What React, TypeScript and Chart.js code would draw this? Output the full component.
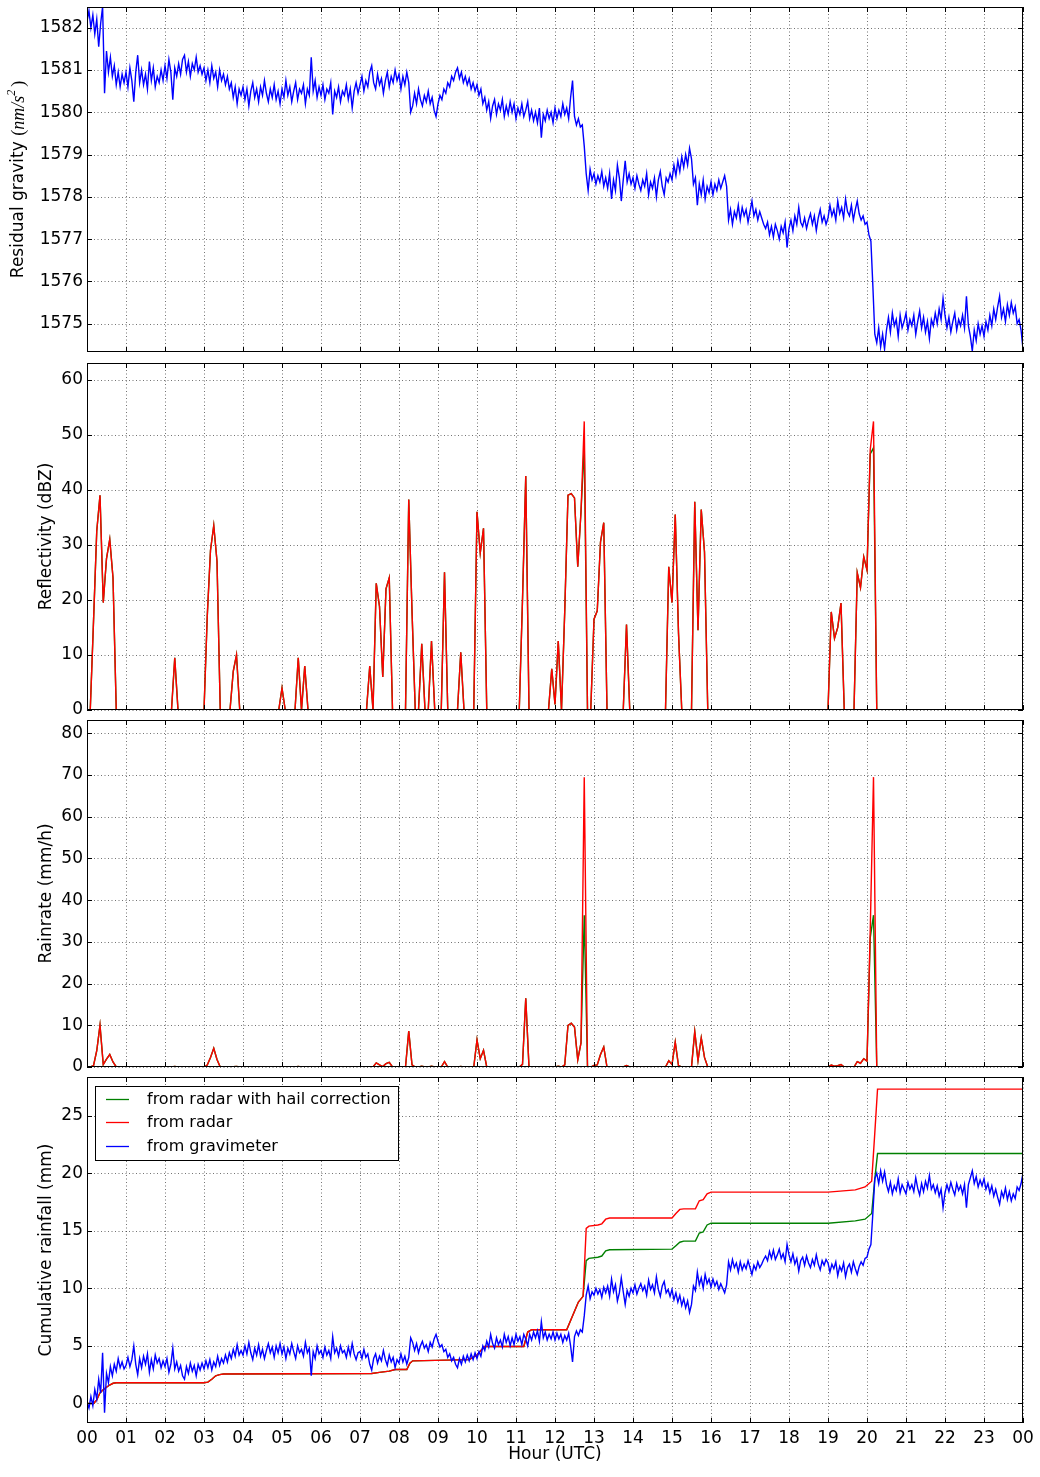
import React, { useEffect, useRef } from "react";
import { Chart, registerables } from "chart.js";

Chart.register(...registerables);

// ---------------- data ----------------
const GRAVITY_STEP_H = 0.05;

const residualGravity = [
  1582.15, 1582.4, 1582.0, 1582.3, 1581.85, 1582.2, 1581.55, 1582.1, 1582.5, 1580.45, 1581.45, 1580.95, 1581.3, 1580.85, 1581.1, 1580.65, 1580.95, 1580.6, 1580.9, 1580.7,
  1580.95, 1580.6, 1581.05, 1580.75, 1580.25, 1580.95, 1581.35, 1580.7, 1581.0, 1580.65, 1580.9, 1580.55, 1581.2, 1580.75, 1581.05, 1580.6, 1580.85, 1580.7, 1581.0, 1580.75,
  1581.1, 1580.8, 1581.25, 1580.95, 1580.3, 1581.05, 1580.85, 1581.15, 1580.9, 1581.25, 1581.35, 1580.95, 1581.2, 1580.85, 1581.15, 1581.0, 1581.3, 1580.95, 1581.1, 1580.9,
  1581.05, 1580.75, 1581.0, 1580.7, 1581.1, 1580.8, 1580.95, 1580.6, 1581.0, 1580.75, 1580.9, 1580.65, 1580.85, 1580.55, 1580.7, 1580.35, 1580.6, 1580.2, 1580.55, 1580.4,
  1580.6, 1580.3, 1580.55, 1580.15, 1580.5, 1580.7, 1580.35, 1580.55, 1580.25, 1580.6, 1580.4, 1580.75, 1580.45, 1580.25, 1580.55, 1580.35, 1580.65, 1580.3, 1580.5, 1580.2,
  1580.55, 1580.35, 1580.75, 1580.4, 1580.6, 1580.25, 1580.5, 1580.7, 1580.3, 1580.55, 1580.45, 1580.65, 1580.2, 1580.55, 1580.4, 1581.3, 1580.5, 1580.75, 1580.35, 1580.6,
  1580.4, 1580.65, 1580.3, 1580.55, 1580.45, 1580.7, 1579.95, 1580.5, 1580.35, 1580.6, 1580.25, 1580.5, 1580.4, 1580.65, 1580.3, 1580.55, 1580.1, 1580.5, 1580.7, 1580.45,
  1580.65, 1580.85, 1580.5, 1580.75, 1580.6, 1580.95, 1581.1, 1580.7, 1580.55, 1580.9, 1580.65, 1580.8, 1580.45, 1580.75, 1580.95, 1580.6, 1580.85, 1580.7, 1581.0, 1580.75,
  1580.9, 1580.55, 1580.85, 1580.65, 1580.95, 1580.7, 1580.0, 1580.15, 1580.45, 1580.2, 1580.55, 1580.3, 1580.15, 1580.4, 1580.25, 1580.5, 1580.2, 1580.35, 1580.05, 1579.9,
  1580.2, 1580.4, 1580.3, 1580.55, 1580.45, 1580.7, 1580.6, 1580.85, 1580.75, 1580.95, 1581.05, 1580.8, 1580.95, 1580.7, 1580.85, 1580.65, 1580.8, 1580.55, 1580.7, 1580.5,
  1580.65, 1580.4, 1580.55, 1580.2, 1580.35, 1580.05, 1580.25, 1579.85, 1580.15, 1580.3, 1579.95, 1580.2, 1580.05, 1580.3, 1579.9, 1580.15, 1579.95, 1580.25, 1580.0, 1580.2,
  1579.85, 1580.1, 1579.95, 1580.2, 1579.9, 1580.05, 1580.25, 1579.85, 1580.05, 1579.8, 1580.0, 1579.75, 1580.1, 1579.4, 1579.95, 1579.8, 1580.05, 1579.85, 1580.0, 1579.75,
  1580.1, 1579.85, 1580.05, 1579.9, 1580.2, 1579.95, 1580.1, 1579.85, 1580.35, 1580.75, 1579.9, 1579.7, 1579.85, 1579.65, 1579.7, 1579.2, 1578.55, 1578.15, 1578.65, 1578.4,
  1578.55, 1578.3, 1578.5, 1578.35, 1578.6, 1578.25, 1578.45, 1578.2, 1578.55, 1577.95, 1578.4, 1578.15, 1578.75, 1578.45, 1577.9, 1578.4, 1578.85, 1578.35, 1578.55, 1578.3,
  1578.45, 1578.2, 1578.5, 1578.3, 1578.15, 1578.4, 1578.25, 1578.55, 1578.05, 1578.35, 1578.2, 1578.45, 1578.0, 1578.4, 1578.6, 1578.25, 1578.05, 1578.45, 1578.35, 1578.55,
  1578.4, 1578.75, 1578.5, 1578.85, 1578.6, 1578.95, 1578.7, 1579.0, 1578.75, 1579.15, 1578.9, 1578.3, 1578.45, 1577.8, 1578.3, 1578.05, 1578.4, 1577.95, 1578.25, 1578.1,
  1578.35, 1578.05, 1578.3, 1578.15, 1578.4, 1578.2, 1578.35, 1578.5, 1578.25, 1577.45, 1577.7, 1577.35, 1577.65, 1577.5, 1577.8, 1577.45, 1577.75, 1577.55, 1577.7, 1577.4,
  1577.65, 1577.9, 1577.55, 1577.7, 1577.45, 1577.65, 1577.5, 1577.35, 1577.25, 1577.4, 1577.1, 1577.3, 1577.05, 1577.35, 1577.2, 1577.0, 1577.3, 1577.15, 1577.4, 1576.8,
  1577.25, 1577.45, 1577.2, 1577.55, 1577.35, 1577.75, 1577.4, 1577.3, 1577.5, 1577.25, 1577.45, 1577.6, 1577.35, 1577.55, 1577.2, 1577.5, 1577.7, 1577.4, 1577.55, 1577.35,
  1577.5, 1577.8, 1577.55, 1577.7, 1577.45, 1577.9, 1577.6, 1577.75, 1577.5, 1577.95, 1577.65, 1577.55, 1577.8, 1577.45, 1577.7, 1577.9, 1577.6, 1577.45, 1577.55, 1577.35,
  1577.4, 1577.1, 1576.95, 1575.9, 1574.75, 1574.55, 1574.9, 1574.45, 1574.75, 1574.4, 1574.85, 1575.15, 1574.8, 1575.25, 1574.95, 1575.1, 1574.7, 1575.2, 1574.9, 1575.05,
  1575.25, 1574.85, 1575.1, 1574.95, 1575.2, 1574.75, 1575.05, 1575.3, 1574.9, 1575.15, 1574.8, 1575.05, 1574.65, 1575.1, 1574.95, 1575.25, 1575.0, 1575.35, 1575.1, 1575.6,
  1575.2, 1574.9, 1575.15, 1574.8, 1575.05, 1575.25, 1574.85, 1575.1, 1574.95, 1575.2, 1574.9, 1575.65, 1574.95, 1574.7, 1574.35, 1574.85, 1574.6, 1575.0, 1574.75, 1574.95,
  1574.7, 1575.05, 1574.85, 1575.2, 1574.95, 1575.35, 1575.1, 1575.4, 1575.65, 1575.15, 1575.35, 1575.05, 1575.45, 1575.2, 1575.5, 1575.25, 1575.4, 1575.0, 1575.1, 1574.85,
  1574.4,
];

const gravimeterRainfall = [
  0.1, -0.4, 0.6, -0.2, 1.2, 0.4, 2.1, 0.9, 4.4, -0.8, 2.6, 1.8, 3.2, 2.4, 3.4, 2.8, 3.9, 3.1, 3.6, 3.0,
  3.3, 4.0, 3.2, 3.8, 5.0, 3.4, 2.5, 3.9, 3.1, 4.1, 3.4, 4.3, 2.7, 3.8, 3.0, 4.2, 3.5, 3.9, 3.1, 3.7,
  3.2, 3.9, 2.7, 3.4, 4.8, 3.0, 3.6, 2.8, 3.3, 2.4, 2.1, 3.2, 2.6, 3.5, 2.8, 3.3, 2.4, 3.4, 2.9, 3.5,
  3.0, 3.7, 3.1, 3.8, 2.9, 3.6, 3.2, 4.1, 3.3, 3.9, 3.5, 4.2, 3.6, 4.4, 3.9, 4.7, 4.1, 5.1, 4.2, 4.6,
  4.2, 5.0, 4.3, 5.3, 4.4, 3.8, 4.8, 4.2, 5.1, 4.1, 4.7, 3.9, 4.6, 5.2, 4.4, 4.9, 4.0, 5.0, 4.4, 5.2,
  4.3, 4.9, 3.9, 4.8, 4.3, 5.2, 4.5, 3.9, 5.0, 4.4, 4.7, 4.1, 5.3, 4.4, 4.8, 2.4, 4.5, 3.9, 5.0, 4.3,
  4.6, 4.0, 4.9, 4.2, 4.6, 3.9, 5.8, 4.4, 4.8, 4.1, 5.0, 4.4, 4.6, 4.0, 4.9, 4.2, 5.2, 4.3, 3.8, 4.4,
  4.5, 3.9, 4.7, 4.0, 4.3, 3.4, 2.9, 3.9, 4.3, 3.5, 4.1, 3.7, 4.6, 3.8, 3.3, 4.2, 3.6, 4.0, 3.1, 3.8,
  3.5, 4.3, 3.6, 4.1, 3.4, 4.0, 5.7, 5.3, 4.6, 5.2, 4.4, 5.0, 5.4, 4.8, 5.1, 4.5, 5.3, 4.9, 5.6, 6.0,
  5.4, 4.9, 5.1, 4.5, 4.7, 4.0, 4.3, 3.7, 4.0, 3.4, 3.1, 3.9, 3.4, 4.1, 3.6, 4.2, 3.7, 4.3, 3.8, 4.4,
  3.9, 4.5, 4.1, 5.0, 4.6, 5.4, 4.9, 6.0, 5.2, 4.8, 5.7, 5.1, 5.5, 4.9, 6.0, 5.3, 5.8, 5.0, 5.7, 5.1,
  6.0, 5.4, 5.8, 5.1, 6.0, 5.6, 5.0, 6.0, 5.5, 6.2, 5.7, 6.3, 5.4, 7.1, 5.7, 6.2, 5.5, 6.0, 5.6, 6.2,
  5.5, 6.1, 5.6, 6.0, 5.3, 5.9, 5.5, 6.1, 5.0, 3.6, 5.8, 6.3, 5.9, 6.4, 6.2, 7.6, 9.4, 10.2, 9.1, 9.7,
  9.4, 10.0, 9.5, 9.9, 9.2, 10.1, 9.6, 10.2, 9.3, 10.8, 9.7, 10.3, 8.9, 9.6, 10.9, 9.7, 8.6, 9.8, 9.3, 10.0,
  9.6, 10.3, 9.5, 10.0, 10.4, 9.8, 10.2, 9.4, 10.7, 9.9, 10.3, 9.6, 11.0, 9.9, 9.3, 10.2, 10.6, 9.6, 9.9, 9.3,
  9.9, 9.0, 9.6, 8.8, 9.4, 8.5, 9.1, 8.3, 8.9, 7.9, 8.6, 10.2, 9.8, 11.4, 10.3, 10.9, 10.0, 11.2, 10.4, 10.8,
  10.1, 10.8, 10.2, 10.6, 9.9, 10.4, 10.0, 9.6, 10.3, 12.3, 11.6, 12.5, 11.8, 12.2, 11.4, 12.3, 11.6, 12.1, 11.7, 12.4,
  11.8, 11.2, 12.0, 11.6, 12.3, 11.8, 12.1, 12.5, 12.8, 12.4, 13.2, 12.6, 13.3, 12.5, 12.9, 13.4, 12.6, 13.0, 12.3, 13.8,
  12.9, 12.3, 13.0, 12.1, 12.6, 11.5, 12.4, 12.7, 12.0, 12.8, 12.2, 11.8, 12.5, 12.0, 12.9, 12.1, 11.6, 12.4, 12.0, 12.5,
  12.2, 11.4, 12.1, 11.7, 12.3, 11.1, 11.9, 11.5, 12.2, 11.0, 11.8, 12.1, 11.4, 12.3, 11.7, 11.2, 11.9, 12.3, 12.0, 12.6,
  12.7, 13.4, 13.8, 16.5, 19.5, 20.0, 19.1, 20.2, 19.3, 20.1, 19.0, 18.4, 19.2, 18.2, 18.9, 18.5, 19.5, 18.3, 19.0, 18.6,
  18.2, 19.2, 18.6, 19.0, 18.4, 19.6, 18.7, 18.1, 19.1, 18.4, 19.3, 18.7, 19.8, 18.6, 19.0, 18.3, 18.9, 18.0, 18.6, 17.0,
  18.3, 19.0, 18.4, 19.2, 18.6, 18.1, 19.1, 18.5, 18.9, 18.2, 19.0, 17.0, 19.0, 19.6, 20.2, 19.1, 19.7, 18.8, 19.4, 18.9,
  19.5, 18.6, 19.1, 18.3, 18.9, 18.0, 18.6, 17.9, 17.3, 18.4, 17.9, 18.7, 17.7, 18.4, 17.6, 18.2, 17.8, 18.8, 18.5, 19.1,
  20.0,
];

const RADAR_STEP_H = 1 / 12; // 5-minute radar steps
const radarSteps = [
  1, 2, 3, 4, 5, 6, 7, 8, 9, 10,
  26, 27, 28, 29,
  36, 37, 38, 39, 40, 41, 42,
  44, 45, 46, 47, 48,
  59, 60, 61, 62,
  64, 65, 66, 67, 68, 69,
  86, 87, 88, 89, 90, 91, 92, 93, 94, 95,
  98, 99, 100, 101, 102, 103, 104, 105, 106, 107, 108,
  109, 110, 111, 112,
  114, 115, 116, 117,
  119, 120, 121, 122, 123, 124,
  133, 134, 135, 136, 137,
  142, 143, 144, 145, 146, 147, 148, 149, 150, 151, 152, 153, 154, 155, 156, 157, 158, 159, 160, 161,
  165, 166, 167, 168,
  178, 179, 180, 181, 182, 183, 184,
  186, 187, 188, 189, 190, 191, 192,
  228, 229, 230, 231, 232, 233, 234,
  236, 237, 238, 239, 240, 241, 242, 243,
];

const reflectivityRadar = [
  0, 16, 32.5, 39, 19.5, 27.5, 31, 24, 0, null,
  0, 9.5, 0, null,
  0, 17, 29, 33.5, 27, 0, null,
  0, 7, 10, 0, null,
  0, 4, 0, null,
  0, 9.5, 0, 8, 0, null,
  0, 8, 0, 23, 18.8, 6, 22, 24, 0, null,
  0, 38.2, 18, 0, 0, 12, 0, 0, 12.5, 0, null,
  0, 25, 0, null,
  0, 10.5, 0, null,
  0, 36, 28.5, 33, 0, null,
  0, 20, 42.5, 0, null,
  0, 7.5, 1, 12.5, 0, 18, 39, 39.3, 38.5, 26, 36, 52.4, 0, 0, 16.5, 18, 30.5, 34, 0, null,
  0, 15.5, 0, null,
  0, 26, 19.5, 35.5, 14, 0, null,
  0, 37.8, 14.5, 36.4, 28.7, 0, null,
  0, 17.8, 13, 15, 19.4, 0, null,
  0, 24.9, 22.2, 27.8, 25.4, 47.3, 52.4, 0,
];

const reflectivityHail = [
  0, 16, 32.5, 39, 19.5, 27.5, 31, 24, 0, null,
  0, 9.5, 0, null,
  0, 17, 29, 33.5, 27, 0, null,
  0, 7, 10, 0, null,
  0, 4, 0, null,
  0, 9.5, 0, 8, 0, null,
  0, 8, 0, 23, 18.8, 6, 22, 24, 0, null,
  0, 38.2, 18, 0, 0, 12, 0, 0, 12.5, 0, null,
  0, 25, 0, null,
  0, 10.5, 0, null,
  0, 36, 28.5, 33, 0, null,
  0, 20, 42.5, 0, null,
  0, 7.5, 1, 12.5, 0, 18, 39, 39.3, 38.5, 26, 36, 48, 0, 0, 16.5, 18, 30.5, 34, 0, null,
  0, 15.5, 0, null,
  0, 26, 19.5, 35.5, 14, 0, null,
  0, 37.8, 14.5, 36.4, 28.7, 0, null,
  0, 17.8, 13, 15, 19.4, 0, null,
  0, 24.9, 22.2, 27.8, 25.4, 46.5, 47.6, 0,
];

const rainrateRadar = [
  0, 0.3, 3.9, 10, 0.6, 1.9, 3, 1.2, 0, null,
  0, 0.15, 0, null,
  0, 0.45, 2.3, 4.5, 1.8, 0, null,
  0, 0.1, 0.15, 0, null,
  0, 0.05, 0, null,
  0, 0.15, 0, 0.1, 0, null,
  0, 0.1, 0, 1, 0.5, 0.1, 0.8, 1.1, 0, null,
  0, 8.6, 0.5, 0, 0, 0.2, 0, 0, 0.2, 0, null,
  0, 1.3, 0, null,
  0, 0.15, 0, null,
  0, 6.5, 2, 4, 0, null,
  0, 0.65, 16.5, 0, null,
  0, 0.1, 0, 0.2, 0, 0.5, 10, 10.5, 9.6, 1.7, 5.8, 69.5, 0, 0, 0.4, 0.5, 3, 4.8, 0, null,
  0, 0.35, 0, null,
  0, 1.5, 0.6, 6, 0.3, 0, null,
  0, 8.5, 1.5, 7, 2.3, 0, null,
  0, 0.45, 0.2, 0.3, 0.6, 0, null,
  0, 1.3, 0.9, 2, 1.4, 33, 69.5, 0,
];

const rainrateHail = [
  0, 0.3, 3.9, 10, 0.6, 1.9, 3, 1.2, 0, null,
  0, 0.15, 0, null,
  0, 0.45, 2.3, 4.5, 1.8, 0, null,
  0, 0.1, 0.15, 0, null,
  0, 0.05, 0, null,
  0, 0.15, 0, 0.1, 0, null,
  0, 0.1, 0, 1, 0.5, 0.1, 0.8, 1.1, 0, null,
  0, 8.6, 0.5, 0, 0, 0.2, 0, 0, 0.2, 0, null,
  0, 1.3, 0, null,
  0, 0.15, 0, null,
  0, 6.5, 2, 4, 0, null,
  0, 0.65, 16.5, 0, null,
  0, 0.1, 0, 0.2, 0, 0.5, 10, 10.5, 9.6, 1.7, 5.8, 36.4, 0, 0, 0.4, 0.5, 3, 4.8, 0, null,
  0, 0.35, 0, null,
  0, 1.5, 0.6, 6, 0.3, 0, null,
  0, 8.5, 1.5, 7, 2.3, 0, null,
  0, 0.45, 0.2, 0.3, 0.6, 0, null,
  0, 1.3, 0.9, 2, 1.4, 31, 36.4, 0,
];

const cumulativeHours = [
  0, 0.17, 0.25, 0.33, 0.42, 0.5, 0.58, 0.67, 0.75,
  3.0, 3.1, 3.2, 3.3, 3.4, 3.5,
  7.3, 7.5, 7.75, 7.9,
  8.2, 8.28, 8.35,
  9.8, 10.0, 10.1, 10.2,
  11.2, 11.3, 11.4,
  12.3, 12.4, 12.5, 12.6, 12.72, 12.8, 12.87,
  13.1, 13.2, 13.3, 13.4,
  15.0, 15.1, 15.2, 15.3,
  15.6, 15.7, 15.8, 15.9, 16.0,
  19.0, 19.7, 19.95,
  20.12, 20.2, 20.27, 24.0,
];

const cumulativeRadar = [
  0, 0, 0.3, 0.9, 1.2, 1.4, 1.6, 1.75, 1.8,
  1.8, 1.85, 2.1, 2.4, 2.5, 2.55,
  2.6, 2.7, 2.8, 2.95,
  2.95, 3.5, 3.7,
  3.8, 4.2, 4.6, 4.95,
  4.95, 6.2, 6.4,
  6.4, 7.2, 8.0, 8.8, 9.3, 15.2, 15.4,
  15.5, 15.6, 16.0, 16.1,
  16.1, 16.5, 16.85, 16.9,
  16.9, 17.6, 17.7, 18.2, 18.35,
  18.35, 18.55, 18.8,
  19.3, 23.5, 27.3, 27.3,
];

const cumulativeHail = [
  0, 0, 0.3, 0.9, 1.2, 1.4, 1.6, 1.75, 1.8,
  1.8, 1.85, 2.1, 2.4, 2.5, 2.55,
  2.6, 2.7, 2.8, 2.95,
  2.95, 3.5, 3.7,
  3.8, 4.2, 4.6, 4.95,
  4.95, 6.2, 6.4,
  6.4, 7.2, 8.0, 8.8, 9.3, 12.4, 12.6,
  12.7, 12.8, 13.25, 13.35,
  13.4, 13.7, 14.0, 14.1,
  14.1, 14.8, 14.9, 15.5, 15.65,
  15.65, 15.85, 16.0,
  16.5, 19.5, 21.7, 21.7,
];

const hourTickLabels = [
  "00", "01", "02", "03", "04", "05", "06", "07", "08", "09", "10", "11",
  "12", "13", "14", "15", "16", "17", "18", "19", "20", "21", "22", "23", "00",
];
const gravityTicks = [1575, 1576, 1577, 1578, 1579, 1580, 1581, 1582];
const reflectivityTicks = [0, 10, 20, 30, 40, 50, 60];
const rainrateTicks = [0, 10, 20, 30, 40, 50, 60, 70, 80];
const cumulativeTicks = [0, 5, 10, 15, 20, 25];

const seriesLabels = ["from radar with hail correction", "from radar", "from gravimeter"];

// ---------------- styling ----------------
const BLUE = "#0000ff";
const RED = "#ff0000";
const GREEN = "#008000";
const SANS = '"DejaVu Sans", sans-serif';
const SERIF = '"Liberation Serif", "DejaVu Serif", serif';
const LINE_W = 1.4;
const TICK_FONT = 17;

const frameGridPlugin = {
  id: "frameGrid",
  beforeDatasetsDraw(chart: any) {
    const { ctx, chartArea: a, scales } = chart;
    ctx.save();
    ctx.strokeStyle = "rgba(0,0,0,0.55)";
    ctx.lineWidth = 1;
    ctx.setLineDash([1, 2.5]);
    for (const t of scales.x.ticks) {
      const px = Math.round(scales.x.getPixelForValue(t.value)) + 0.5;
      ctx.beginPath();
      ctx.moveTo(px, a.top);
      ctx.lineTo(px, a.bottom);
      ctx.stroke();
    }
    for (const t of scales.y.ticks) {
      const py = Math.round(scales.y.getPixelForValue(t.value)) + 0.5;
      ctx.beginPath();
      ctx.moveTo(a.left, py);
      ctx.lineTo(a.right, py);
      ctx.stroke();
    }
    ctx.restore();
  },
  afterDatasetsDraw(chart: any) {
    const { ctx, chartArea: a, scales } = chart;
    ctx.save();
    ctx.setLineDash([]);
    ctx.strokeStyle = "#000";
    ctx.lineWidth = 1;
    const L = 5;
    for (const t of scales.x.ticks) {
      const px = Math.round(scales.x.getPixelForValue(t.value)) + 0.5;
      ctx.beginPath();
      ctx.moveTo(px, a.top);
      ctx.lineTo(px, a.top + L);
      ctx.moveTo(px, a.bottom);
      ctx.lineTo(px, a.bottom - L);
      ctx.stroke();
    }
    for (const t of scales.y.ticks) {
      const py = Math.round(scales.y.getPixelForValue(t.value)) + 0.5;
      ctx.beginPath();
      ctx.moveTo(a.left, py);
      ctx.lineTo(a.left + L, py);
      ctx.moveTo(a.right, py);
      ctx.lineTo(a.right - L, py);
      ctx.stroke();
    }
    ctx.strokeRect(a.left + 0.5, a.top + 0.5, a.right - a.left - 1, a.bottom - a.top - 1);
    ctx.restore();
  },
};

const boxLegendPlugin = {
  id: "boxLegend",
  afterDatasetsDraw(chart: any) {
    const { ctx, chartArea: a } = chart;
    const left = a.left + 8;
    const top = a.top + 9;
    const w = 303;
    const h = 74;
    ctx.save();
    ctx.setLineDash([]);
    ctx.fillStyle = "#fff";
    ctx.fillRect(left, top, w, h);
    ctx.strokeStyle = "#000";
    ctx.lineWidth = 1;
    ctx.strokeRect(left + 0.5, top + 0.5, w, h);
    ctx.font = `16px ${SANS}`;
    ctx.textBaseline = "middle";
    chart.data.datasets.forEach((ds: any, i: number) => {
      const y = Math.round(top + 13 + i * 23.3) + 0.5;
      ctx.strokeStyle = ds.borderColor;
      ctx.lineWidth = 1.3;
      ctx.beginPath();
      ctx.moveTo(left + 11, y);
      ctx.lineTo(left + 34, y);
      ctx.stroke();
      ctx.fillStyle = "#000";
      ctx.fillText(ds.label, left + 52, y);
    });
    ctx.restore();
  },
};

const gravityLabelPlugin = {
  id: "gravityLabel",
  afterDraw(chart: any) {
    const { ctx, chartArea: a } = chart;
    const parts = [
      { t: "Residual gravity ", f: `17px ${SANS}`, dy: 0, gap: 0 },
      { t: "(", f: `18px ${SERIF}`, dy: 0, gap: 0 },
      { t: "nm/s", f: `italic 18px ${SERIF}`, dy: 0, gap: 0 },
      { t: "2", f: `italic 12px ${SERIF}`, dy: -7, gap: 3 },
      { t: ")", f: `18px ${SERIF}`, dy: 0, gap: 0 },
    ];
    ctx.save();
    let total = 0;
    const widths = parts.map((p) => {
      ctx.font = p.f;
      const w = ctx.measureText(p.t).width + p.gap;
      total += w;
      return w;
    });
    ctx.translate(19, (a.top + a.bottom) / 2);
    ctx.rotate(-Math.PI / 2);
    ctx.textBaseline = "middle";
    ctx.fillStyle = "#000";
    let x = -total / 2;
    parts.forEach((p, i) => {
      ctx.font = p.f;
      ctx.fillText(p.t, x, p.dy);
      x += widths[i];
    });
    ctx.restore();
  },
};

type PanelOpts = {
  yMin: number;
  yMax: number;
  yTicks: number[];
  yTitle?: string;
  padTop: number;
  padBottom: number;
  xHeight: number;
  showX: boolean;
};

function makeOptions(p: PanelOpts): any {
  return {
    responsive: false,
    maintainAspectRatio: false,
    animation: false,
    devicePixelRatio: 1,
    events: [],
    layout: { padding: { left: 0, right: 17, top: p.padTop, bottom: p.padBottom } },
    plugins: { legend: { display: false }, tooltip: { enabled: false } },
    elements: { point: { radius: 0, hoverRadius: 0 }, line: { tension: 0 } },
    scales: {
      x: {
        type: "linear",
        min: 0,
        max: 24,
        afterBuildTicks: (s: any) => {
          s.ticks = hourTickLabels.map((_, i) => ({ value: i }));
        },
        afterFit: (s: any) => {
          s.height = p.xHeight;
          s.paddingLeft = 0;
          s.paddingRight = 0;
          s.paddingTop = 0;
          s.paddingBottom = 0;
        },
        grid: { display: false, drawTicks: false, tickLength: 0 },
        border: { display: false },
        ticks: {
          display: p.showX,
          autoSkip: false,
          maxRotation: 0,
          minRotation: 0,
          padding: 5,
          color: "#000",
          font: { family: SANS, size: TICK_FONT, lineHeight: 1.2 },
          callback: (_v: any, i: number) => hourTickLabels[i],
        },
        title: p.showX
          ? {
              display: true,
              text: "Hour (UTC)",
              color: "#000",
              font: { family: SANS, size: 17, lineHeight: 1.2 },
              padding: { top: 0, bottom: 12 },
            }
          : { display: false },
      },
      y: {
        type: "linear",
        min: p.yMin,
        max: p.yMax,
        afterBuildTicks: (s: any) => {
          s.ticks = p.yTicks.map((v) => ({ value: v }));
        },
        afterFit: (s: any) => {
          s.width = 87;
          s.paddingTop = 0;
          s.paddingBottom = 0;
          s.paddingLeft = 0;
          s.paddingRight = 0;
        },
        grid: { display: false, drawTicks: false, tickLength: 0 },
        border: { display: false },
        ticks: {
          padding: 4,
          color: "#000",
          font: { family: SANS, size: TICK_FONT, lineHeight: 1.2 },
          callback: (v: any) => String(v),
        },
        title: p.yTitle
          ? {
              display: true,
              text: p.yTitle,
              color: "#000",
              font: { family: SANS, size: 17, lineHeight: 1.2 },
              padding: { top: 36, bottom: 0 },
            }
          : { display: false },
      },
    },
  };
}

function lineDs(label: string, color: string, data: any[], order: number) {
  return {
    label,
    data,
    borderColor: color,
    backgroundColor: color,
    borderWidth: LINE_W,
    pointRadius: 0,
    fill: false,
    spanGaps: false,
    order,
  };
}

const gravityPoints = () => residualGravity.map((v, i) => ({ x: i * GRAVITY_STEP_H, y: v }));
const gravimeterPoints = () => gravimeterRainfall.map((v, i) => ({ x: i * GRAVITY_STEP_H, y: v }));
const radarPoints = (vals: (number | null)[]) =>
  radarSteps.map((k, i) => ({ x: k * RADAR_STEP_H, y: vals[i] }));
const cumulativePoints = (vals: number[]) => cumulativeHours.map((h, i) => ({ x: h, y: vals[i] }));

export default function App() {
  const c1 = useRef<HTMLCanvasElement>(null);
  const c2 = useRef<HTMLCanvasElement>(null);
  const c3 = useRef<HTMLCanvasElement>(null);
  const c4 = useRef<HTMLCanvasElement>(null);

  useEffect(() => {
    const charts: Chart[] = [];

    charts.push(
      new Chart(c1.current as HTMLCanvasElement, {
        type: "line",
        data: { datasets: [lineDs("gravity", BLUE, gravityPoints(), 1)] },
        options: makeOptions({
          yMin: 1574.33,
          yMax: 1582.49,
          yTicks: gravityTicks,
          padTop: 7,
          padBottom: 6,
          xHeight: 0,
          showX: false,
        }),
        plugins: [frameGridPlugin, gravityLabelPlugin],
      } as any)
    );

    charts.push(
      new Chart(c2.current as HTMLCanvasElement, {
        type: "line",
        data: {
          datasets: [
            lineDs(seriesLabels[0], GREEN, radarPoints(reflectivityHail), 2),
            lineDs(seriesLabels[1], RED, radarPoints(reflectivityRadar), 1),
          ],
        },
        options: makeOptions({
          yMin: 0,
          yMax: 63,
          yTicks: reflectivityTicks,
          yTitle: "Reflectivity (dBZ)",
          padTop: 5,
          padBottom: 5,
          xHeight: 0,
          showX: false,
        }),
        plugins: [frameGridPlugin],
      } as any)
    );

    charts.push(
      new Chart(c3.current as HTMLCanvasElement, {
        type: "line",
        data: {
          datasets: [
            lineDs(seriesLabels[0], GREEN, radarPoints(rainrateHail), 2),
            lineDs(seriesLabels[1], RED, radarPoints(rainrateRadar), 1),
          ],
        },
        options: makeOptions({
          yMin: 0,
          yMax: 83.2,
          yTicks: rainrateTicks,
          yTitle: "Rainrate (mm/h)",
          padTop: 5,
          padBottom: 5,
          xHeight: 0,
          showX: false,
        }),
        plugins: [frameGridPlugin],
      } as any)
    );

    charts.push(
      new Chart(c4.current as HTMLCanvasElement, {
        type: "line",
        data: {
          datasets: [
            lineDs(seriesLabels[0], GREEN, cumulativePoints(cumulativeHail), 3),
            lineDs(seriesLabels[1], RED, cumulativePoints(cumulativeRadar), 2),
            lineDs(seriesLabels[2], BLUE, gravimeterPoints(), 1),
          ],
        },
        options: makeOptions({
          yMin: -1.7,
          yMax: 28.35,
          yTicks: cumulativeTicks,
          yTitle: "Cumulative rainfall (mm)",
          padTop: 5,
          padBottom: 0,
          xHeight: 54,
          showX: true,
        }),
        plugins: [frameGridPlugin, boxLegendPlugin],
      } as any)
    );

    return () => charts.forEach((c) => c.destroy());
  }, []);

  const cs = (top: number, h: number): React.CSSProperties => ({
    position: "absolute",
    left: 0,
    top,
    width: 1040,
    height: h,
    display: "block",
  });

  return (
    <div style={{ position: "absolute", left: 0, top: 0, width: 1040, height: 1477, background: "#fff" }}>
      <canvas ref={c1} width={1040} height={358} style={cs(0, 358)} />
      <canvas ref={c2} width={1040} height={357} style={cs(358, 357)} />
      <canvas ref={c3} width={1040} height={357} style={cs(715, 357)} />
      <canvas ref={c4} width={1040} height={405} style={cs(1072, 405)} />
    </div>
  );
}
